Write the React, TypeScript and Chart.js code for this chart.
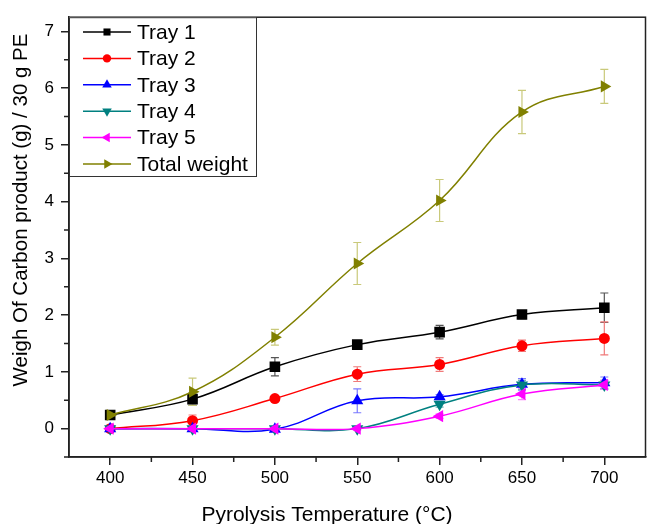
import React, { useEffect, useRef } from "react";
import { Chart, registerables } from "chart.js";

Chart.register(...registerables);

const temperatures = [400, 450, 500, 550, 600, 650, 700];
const seriesLabels = ["Tray 1", "Tray 2", "Tray 3", "Tray 4", "Tray 5", "Total weight"];
const tray1 = [0.24, 0.52, 1.09, 1.48, 1.7, 2.01, 2.13];
const tray1Err = [0.03, 0.11, 0.16, 0.05, 0.12, 0.07, 0.26];
const tray2 = [0.0, 0.14, 0.53, 0.96, 1.13, 1.46, 1.59];
const tray2Err = [0.02, 0.1, 0.04, 0.13, 0.12, 0.1, 0.29];
const tray3 = [0.0, 0.0, -0.01, 0.49, 0.56, 0.78, 0.81];
const tray3Err = [0.02, 0.02, 0.02, 0.21, 0.04, 0.1, 0.1];
const tray4 = [0.0, 0.0, 0.0, 0.0, 0.43, 0.77, 0.77];
const tray4Err = [0.02, 0.02, 0.02, 0.02, 0.05, 0.08, 0.08];
const tray5 = [0.0, 0.0, 0.0, 0.0, 0.22, 0.61, 0.77];
const tray5Err = [0.02, 0.02, 0.02, 0.02, 0.04, 0.1, 0.08];
const totalWeight = [0.24, 0.65, 1.61, 2.91, 4.02, 5.58, 6.03];
const totalErr = [0.03, 0.24, 0.14, 0.37, 0.37, 0.38, 0.3];

const xTicks = [400, 450, 500, 550, 600, 650, 700];
const xMinorTicks = [425, 475, 525, 575, 625, 675];
const yTicks = [0, 1, 2, 3, 4, 5, 6, 7];
const yMinorTicks = [-0.5, 0.5, 1.5, 2.5, 3.5, 4.5, 5.5, 6.5];

const xTitle = "Pyrolysis Temperature (°C)";
const yTitle = "Weigh Of Carbon product (g) / 30 g PE";

const FONT = '"Liberation Sans", Arial, sans-serif';

const styles = [
  { color: "#000000", err: "#555555", style: "rect", rot: 0, r: 7.5, lr: 5 },
  { color: "#ff0000", err: "#f07a7a", style: "circle", rot: 0, r: 5.5, lr: 4.2 },
  { color: "#0000ff", err: "#7a7aff", style: "triangle", rot: 0, r: 7, lr: 5.5 },
  { color: "#008080", err: "#6fb5b5", style: "triangle", rot: 180, r: 7, lr: 5.5 },
  { color: "#ff00ff", err: "#ff80ff", style: "triangle", rot: -90, r: 7, lr: 5.5 },
  { color: "#808000", err: "#c9c97a", style: "triangle", rot: 90, r: 7, lr: 5.5 },
];

const allValues = [tray1, tray2, tray3, tray4, tray5, totalWeight];
const allErrors = [tray1Err, tray2Err, tray3Err, tray4Err, tray5Err, totalErr];

function drawMarker(ctx: CanvasRenderingContext2D, style: string, rot: number, x: number, y: number, r: number, color: string) {
  ctx.save();
  ctx.fillStyle = color;
  ctx.beginPath();
  if (style === "rect") {
    const s = Math.SQRT1_2 * r;
    ctx.rect(x - s, y - s, 2 * s, 2 * s);
  } else if (style === "circle") {
    ctx.arc(x, y, r, 0, Math.PI * 2);
  } else {
    let a = (rot * Math.PI) / 180;
    ctx.moveTo(x + Math.sin(a) * r, y - Math.cos(a) * r);
    a += (2 * Math.PI) / 3;
    ctx.lineTo(x + Math.sin(a) * r, y - Math.cos(a) * r);
    a += (2 * Math.PI) / 3;
    ctx.lineTo(x + Math.sin(a) * r, y - Math.cos(a) * r);
    ctx.closePath();
  }
  ctx.fill();
  ctx.restore();
}

const errorBarPlugin = {
  id: "errorBars",
  beforeDatasetsDraw(chart: any) {
    const ctx = chart.ctx;
    const xs = chart.scales.x;
    const ys = chart.scales.y;
    chart.data.datasets.forEach((ds: any, i: number) => {
      const errs = allErrors[i];
      ctx.save();
      ctx.strokeStyle = styles[i].err;
      ctx.lineWidth = 1.2;
      ds.data.forEach((pt: any, j: number) => {
        const e = errs[j];
        const x = xs.getPixelForValue(pt.x);
        const yTop = ys.getPixelForValue(pt.y + e);
        const yBot = ys.getPixelForValue(pt.y - e);
        ctx.beginPath();
        ctx.moveTo(x, yTop);
        ctx.lineTo(x, yBot);
        ctx.moveTo(x - 4, yTop);
        ctx.lineTo(x + 4, yTop);
        ctx.moveTo(x - 4, yBot);
        ctx.lineTo(x + 4, yBot);
        ctx.stroke();
      });
      ctx.restore();
    });
  },
};

const decorPlugin = {
  id: "decor",
  afterDraw(chart: any) {
    const ctx = chart.ctx as CanvasRenderingContext2D;
    const { left, right, top, bottom } = chart.chartArea;
    const xs = chart.scales.x;
    const ys = chart.scales.y;
    ctx.save();
    // frame
    ctx.strokeStyle = "#222";
    ctx.lineWidth = 1.5;
    ctx.strokeRect(left, top, right - left, bottom - top);
    // minor ticks
    ctx.beginPath();
    xMinorTicks.forEach((v) => {
      const x = xs.getPixelForValue(v);
      ctx.moveTo(x, bottom);
      ctx.lineTo(x, bottom + 5);
    });
    yMinorTicks.forEach((v) => {
      const y = ys.getPixelForValue(v);
      ctx.moveTo(left, y);
      ctx.lineTo(left - 5, y);
    });
    ctx.stroke();

    // axis titles
    ctx.fillStyle = "#000";
    ctx.font = `21px ${FONT}`;
    ctx.textAlign = "center";
    ctx.textBaseline = "alphabetic";
    ctx.fillText(xTitle, 327, 521);
    ctx.save();
    ctx.translate(27, 210);
    ctx.rotate(-Math.PI / 2);
    ctx.font = `20.5px ${FONT}`;
    ctx.fillText(yTitle, 0, 0);
    ctx.restore();

    // legend
    const lx0 = left;
    const ly0 = top;
    const lw = 256 - left;
    const lh = 176 - top;
    ctx.fillStyle = "#fff";
    ctx.fillRect(lx0, ly0, lw, lh);
    ctx.strokeStyle = "#333";
    ctx.lineWidth = 1;
    ctx.strokeRect(lx0 + 0.5, ly0 + 0.5, lw, lh);
    chart.data.datasets.forEach((ds: any, i: number) => {
      const y = 32 + i * 26.4;
      const st = styles[i];
      ctx.strokeStyle = st.color;
      ctx.lineWidth = 1.5;
      ctx.beginPath();
      ctx.moveTo(left + 14, y);
      ctx.lineTo(left + 62, y);
      ctx.stroke();
      drawMarker(ctx, st.style, st.rot, left + 38, y, st.lr, st.color);
      ctx.fillStyle = "#000";
      ctx.font = `21px ${FONT}`;
      ctx.textAlign = "left";
      ctx.textBaseline = "middle";
      ctx.fillText(ds.label, left + 68, y + 1);
    });
    ctx.restore();
  },
};

export default function App() {
  const canvasRef = useRef<HTMLCanvasElement | null>(null);

  useEffect(() => {
    if (!canvasRef.current) return;
    Chart.defaults.color = "#000";
    Chart.defaults.font.family = FONT;
    const n = allValues.length;
    const datasets = allValues.map((vals, i) => ({
      label: seriesLabels[i],
      data: temperatures.map((t, j) => ({ x: t, y: vals[j] })),
      borderColor: styles[i].color,
      backgroundColor: styles[i].color,
      borderWidth: 1.5,
      pointStyle: styles[i].style,
      pointRotation: styles[i].rot,
      pointRadius: styles[i].r,
      pointBorderWidth: 0,
      pointBackgroundColor: styles[i].color,
      tension: 0.4,
      fill: false,
      order: n - 1 - i,
    }));

    const chart = new Chart(canvasRef.current, {
      type: "line",
      data: { datasets },
      options: {
        animation: false,
        responsive: true,
        maintainAspectRatio: false,
        layout: { padding: { left: 0, top: 14, right: 2, bottom: 0 } },
        plugins: { legend: { display: false }, tooltip: { enabled: false } },
        scales: {
          x: {
            type: "linear",
            min: 375,
            max: 725,
            afterBuildTicks: (scale: any) => {
              scale.ticks = xTicks.map((v) => ({ value: v }));
            },
            afterFit: (scale: any) => {
              scale.height = 67;
            },
            grid: { drawOnChartArea: false, drawTicks: true, tickLength: 8, color: "#222", lineWidth: 1.5 },
            border: { display: true, color: "#222", width: 1.5 },
            ticks: { font: { size: 17, family: FONT }, color: "#000", padding: 3, maxRotation: 0 },
          },
          y: {
            type: "linear",
            min: -0.5,
            max: 7.25,
            afterBuildTicks: (scale: any) => {
              scale.ticks = yTicks.map((v) => ({ value: v }));
            },
            afterFit: (scale: any) => {
              scale.width = 69;
            },
            grid: { drawOnChartArea: false, drawTicks: true, tickLength: 8, color: "#222", lineWidth: 1.5 },
            border: { display: true, color: "#222", width: 1.5 },
            ticks: { font: { size: 17, family: FONT }, color: "#000", padding: 7 },
          },
        },
      },
      plugins: [errorBarPlugin, decorPlugin],
    } as any);

    return () => chart.destroy();
  }, []);

  return (
    <div style={{ position: "absolute", left: 0, top: 0, width: 653, height: 524, background: "#fff" }}>
      <canvas ref={canvasRef} />
    </div>
  );
}
